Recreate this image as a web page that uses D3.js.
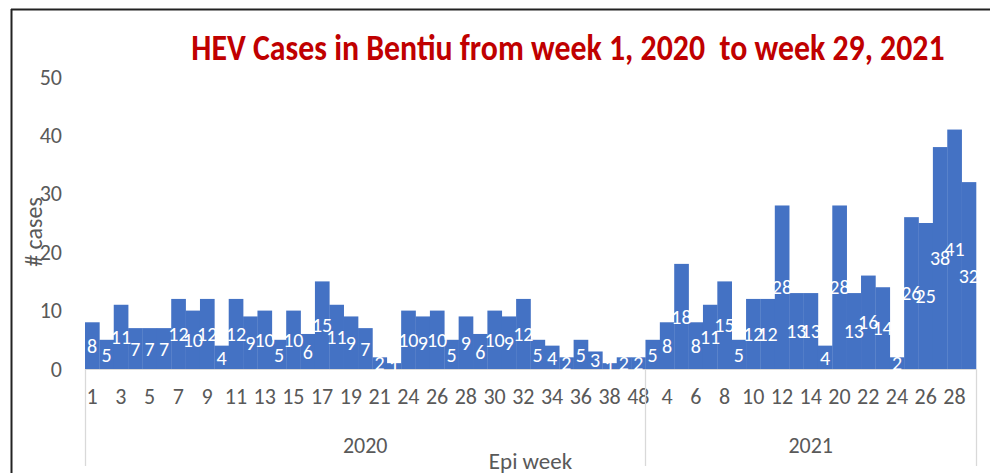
<!DOCTYPE html>
<html>
<head>
<meta charset="utf-8">
<script src="https://cdn.jsdelivr.net/npm/d3@7"></script>
<style>
  body { margin: 0; background: #fff; }
  svg text { font-family: Carlito, Calibri, "Roboto", "Noto Sans", sans-serif; }
</style>
</head>
<body>
<div id="chart"></div>
<script>
// weeks and case counts
var weeks2020 = [1,2,3,4,5,6,7,8,9,10,11,12,13,14,15,16,17,18,19,20,21,22,
                 24,25,26,27,28,29,30,31,32,33,34,35,36,37,38,39,48];
var cases2020 = [8,5,11,7,7,7,12,10,12,4,12,9,10,5,10,6,15,11,9,7,2,1,
                 10,9,10,5,9,6,10,9,12,5,4,2,5,3,1,2,2];
var weeks2021 = [3,4,5,6,7,8,9,10,11,12,13,14,15,20,21,22,23,24,25,26,27,28,29];
var cases2021 = [5,8,18,8,11,15,5,12,12,28,13,13,4,28,13,16,14,2,26,25,38,41,32];
var years = ["2020", "2021"];
var yTicks = [0,10,20,30,40,50];

var W = 990, H = 473;
var margin = {top: 77, right: 14, bottom: 104, left: 85};
var grey = "#595959";
var font = "Carlito, Calibri, Roboto, sans-serif";

// build rows
var rows = [];
weeks2020.forEach(function(w, i) { rows.push({year: "2020", week: w, value: cases2020[i]}); });
weeks2021.forEach(function(w, i) { rows.push({year: "2021", week: w, value: cases2021[i]}); });
rows.forEach(function(d, i) { d.key = d.year + "-" + d.week; d.idx = i; });

var svg = d3.select("#chart").append("svg")
  .attr("width", W).attr("height", H);

// frame
svg.append("line").attr("x1", 11).attr("x2", W).attr("y1", 9.5).attr("y2", 9.5)
  .attr("stroke", "#222").attr("stroke-width", 2);
svg.append("line").attr("x1", 11.5).attr("x2", 11.5).attr("y1", 9).attr("y2", H)
  .attr("stroke", "#222").attr("stroke-width", 2);

var x = d3.scaleBand()
  .domain(rows.map(function(d) { return d.key; }))
  .range([margin.left, W - margin.right])
  .padding(0);

var y = d3.scaleLinear().domain([0, 50]).range([H - margin.bottom, margin.top]);
var y0 = y(0);

// title (stretched a bit vertically like the original)
var title = svg.append("text")
  .attr("transform", "translate(568,60) scale(1,1.15)")
  .attr("text-anchor", "middle")
  .attr("fill", "#C00000")
  .attr("font-weight", "bold")
  .attr("font-size", 28)
  .text("HEV Cases in Bentiu from week 1, 2020  to week 29, 2021")
  .style("white-space", "pre");
var tl = title.node().getComputedTextLength();
if (tl > 0) title.attr("font-size", 28 * 753 / tl);

// y axis labels (no line, no grid)
var yAxis = d3.axisLeft(y).tickValues(yTicks).tickSize(0).tickPadding(0);
var gy = svg.append("g").attr("transform", "translate(62,0)").call(yAxis);
gy.select(".domain").remove();
gy.selectAll("text").attr("fill", grey).attr("font-size", 22).attr("font-family", font);

svg.append("text")
  .attr("transform", "translate(42,232) rotate(-90)")
  .attr("text-anchor", "middle")
  .attr("fill", grey).attr("font-size", 24)
  .text("# cases");

// bars
svg.append("g").selectAll("rect")
  .data(rows).enter().append("rect")
  .attr("x", function(d) { return x(d.key); })
  .attr("width", x.bandwidth() + 0.3)
  .attr("y", function(d) { return y(d.value); })
  .attr("height", function(d) { return y0 - y(d.value); })
  .attr("fill", "#4472C4");

// baseline
svg.append("line").attr("x1", margin.left).attr("x2", W - margin.right)
  .attr("y1", y0 + 0.5).attr("y2", y0 + 0.5)
  .attr("stroke", "#d9d9d9").attr("stroke-width", 1);

// data labels, centred in bar
svg.append("g").selectAll("text")
  .data(rows).enter().append("text")
  .attr("x", function(d) { return x(d.key) + x.bandwidth() / 2; })
  .attr("y", function(d) { return (y(d.value) + y0) / 2; })
  .attr("dy", "0.36em")
  .attr("text-anchor", "middle")
  .attr("fill", "#fff").attr("font-size", 20)
  .text(function(d) { return d.value; });

// x axis: week labels every other category
var xAxis = d3.axisBottom(x).tickSize(0).tickPadding(0)
  .tickValues(rows.filter(function(d) { return d.idx % 2 === 0; }).map(function(d) { return d.key; }))
  .tickFormat(function(k) { return k.split("-")[1]; });
var gx = svg.append("g").attr("transform", "translate(0," + (y0 + 19) + ")").call(xAxis);
gx.select(".domain").remove();
gx.selectAll("text").attr("fill", grey).attr("font-size", 22).attr("font-family", font);

// year groups
var bounds = years.map(function(yr) {
  var r = rows.filter(function(d) { return d.year === yr; });
  return {year: yr, x0: x(r[0].key), x1: x(r[r.length - 1].key) + x.bandwidth()};
});
var seps = [bounds[0].x0, bounds[0].x1, bounds[1].x1];
svg.append("g").selectAll("line")
  .data(seps).enter().append("line")
  .attr("x1", function(d) { return Math.round(d) + 0.5; })
  .attr("x2", function(d) { return Math.round(d) + 0.5; })
  .attr("y1", y0).attr("y2", 466)
  .attr("stroke", "#d9d9d9").attr("stroke-width", 1.3);

svg.append("g").selectAll("text")
  .data(bounds).enter().append("text")
  .attr("x", function(d) { return (d.x0 + d.x1) / 2; })
  .attr("y", 453)
  .attr("text-anchor", "middle")
  .attr("fill", grey).attr("font-size", 22)
  .text(function(d) { return d.year; });

svg.append("text")
  .attr("x", (margin.left + W - margin.right) / 2).attr("y", 469)
  .attr("text-anchor", "middle")
  .attr("fill", grey).attr("font-size", 23)
  .text("Epi week");
</script>
</body>
</html>
